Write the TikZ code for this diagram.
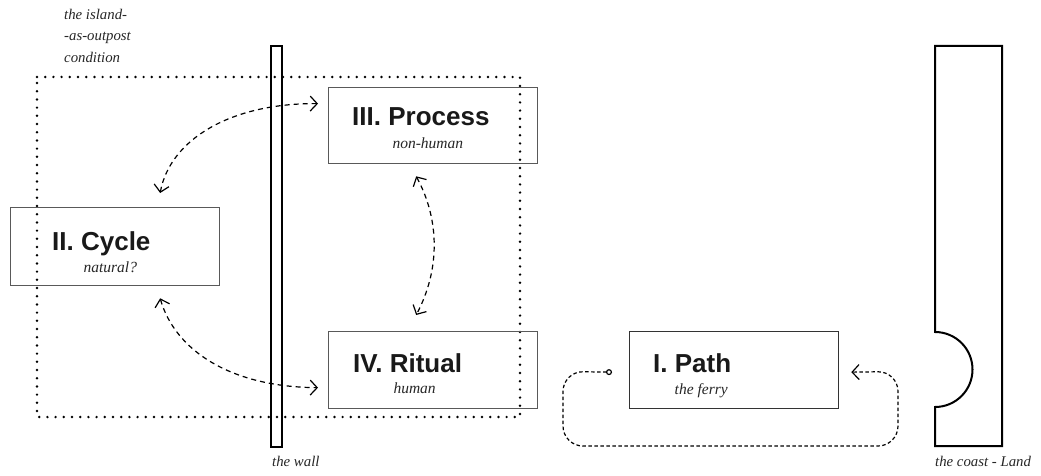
\documentclass[tikz,border=0pt]{standalone}
\usepackage{fontspec}
\setmainfont{Liberation Serif}
\newfontfamily\headfont{Liberation Sans}
\usetikzlibrary{arrows.meta,calc}
\begin{document}
\begin{tikzpicture}[x=1pt,y=-1pt,
  box/.style={draw=black!65, line width=1.3pt, minimum width=209pt, minimum height=77pt, inner sep=0pt, anchor=north west},
  head/.style={font=\headfont\bfseries\fontsize{26}{30}\selectfont, text=black!90, inner sep=0pt, anchor=base west},
  sub/.style={font=\itshape\fontsize{15.5}{18}\selectfont, text=black!85, inner sep=0pt, anchor=base},
  lbl/.style={font=\itshape\fontsize{14.8}{21.3}\selectfont, text=black!85, inner sep=0pt},
  barb/.tip={Straight Barb[length=7pt,width=15pt,line width=1.2pt]},
  link/.style={line width=1.2pt, dash pattern=on 5pt off 4pt, barb-barb},
  loopline/.style={line width=1.2pt, dash pattern=on 3.5pt off 2.5pt, rounded corners=20pt, {Circle[open,length=6pt,line width=1.2pt]}-barb},
  dotline/.style={line width=2.7pt, line cap=round, dash pattern=on 0pt off 8.2pt},
  thick wall/.style={line width=2pt, line join=miter}
]
\useasboundingbox (0,0) rectangle (1041,476);

% dotted outpost region
\draw[dotline] (37,77) -- (520,77) -- (520,417) -- (37,417) -- cycle;

% the wall
\draw[thick wall] (271,46) rectangle (282,447);

% the coast
\draw[line width=2pt, line join=miter] (935,46) -- (1002,46) -- (1002,446) -- (935,446) -- (935,407)
  arc[start angle=90, end angle=-90, radius=37.5] -- cycle;

% boxes
\node[box, minimum height=78pt] (cyc) at (10,207) {};
\node[box, minimum height=76pt] (proc) at (328,87) {};
\node[box] (rit) at (328,331) {};
\node[box, draw=black!80] (path) at (629,331) {};

% titles
\node[head] (cyct) at ($(cyc.west)+(42,4)$) {II. Cycle};
\node[sub] (cycs) at ($(cyct.base)+(9,22)$) {natural?};
\node[head] (proct) at ($(proc.west)+(24,0)$) {III. Process};
\node[sub] (procs) at ($(proct.base)+(7,23)$) {non-human};
\node[head] (ritt) at ($(rit.west)+(25,2.5)$) {IV. Ritual};
\node[sub] (rits) at ($(ritt.base)+(7,21)$) {human};
\node[head] (patht) at ($(path.west)+(24,2.5)$) {I. Path};
\node[sub] (paths) at ($(patht.base)+(9,22)$) {the ferry};

% labels
\node[lbl, anchor=north west, align=left] (isl) at (64,9) {the island-\\-as-outpost\\condition};
\node[lbl, anchor=base west] (wall) at (272,466) {the wall};
\node[lbl, anchor=base west] (coast) at (935,466) {the coast - Land};

% connectors
\draw[link] ($(proc.west)+(-10,-22)$) .. controls (230,103) and (170,140) .. ($(cyc.north)+(45,-14)$);
\draw[link] ($(cyc.south)+(45,12)$) .. controls (175,350) and (230,387) .. ($(rit.west)+(-10,17.5)$);
\draw[link] ($(proc.south)+(-17,12)$) .. controls (440,220) and (440,270) .. ($(rit.north)+(-17,-16)$);
\draw[loopline] ($(path.west)+(-17,2)$) -- (563,371.5) -- (563,446) -- (898,446) -- (898,371.5) -- ($(path.east)+(12,2)$);
\end{tikzpicture}
\end{document}
